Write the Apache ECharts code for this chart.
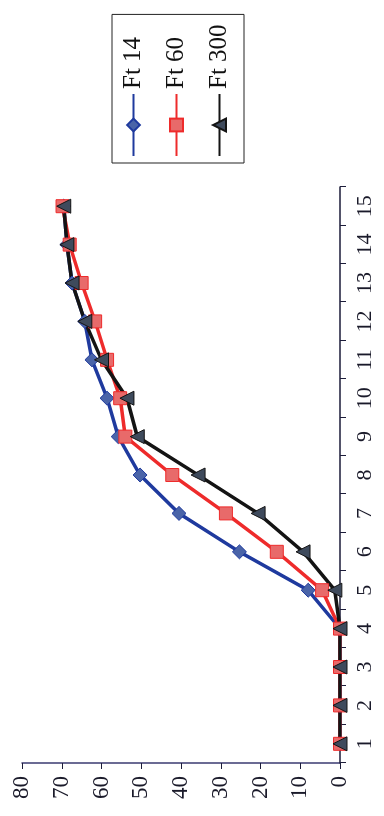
<!DOCTYPE html>
<html>
<head>
<meta charset="utf-8">
<script src="https://cdn.jsdelivr.net/npm/echarts@6/dist/echarts.min.js"></script>
<style>
  html, body { margin: 0; padding: 0; background: #fff; overflow: hidden; }
  body { width: 384px; height: 816px; position: relative; }
  /* The chart is laid out landscape (816 x 384) and turned a quarter turn counter-clockwise. */
  #chart {
    position: absolute; left: 0; top: 0;
    width: 816px; height: 384px;
    transform-origin: 0 0;
    transform: translateY(816px) rotate(-90deg);
  }
</style>
</head>
<body>
<div id="chart"></div>
<script>
// Category axis (1..15) and the three measured series
const categories = ['1','2','3','4','5','6','7','8','9','10','11','12','13','14','15'];
const ft14  = [0, 0, 0, 0, 8.0, 25.3, 40.5, 50.3, 55.8, 58.6, 62.4, 64.2, 67.4, 68.7, 69.5];
const ft60  = [0, 0, 0, 0, 4.5, 15.9, 28.7, 42.2, 54.0, 55.3, 58.6, 61.6, 65.0, 68.0, 69.8];
const ft300 = [0, 0, 0, 0, 1.3, 9.3, 20.6, 35.7, 51.0, 53.6, 60.0, 64.2, 67.4, 68.7, 69.5];
const seriesNames = ['Ft 14', 'Ft 60', 'Ft 300'];

const FONT = 'Liberation Serif';
const AXIS_COLOR = '#1d1d3a';

const chart = echarts.init(document.getElementById('chart'), null, { renderer: 'canvas' });

function lineSeries(name, data, color, symbol, fill, size) {
  return {
    name: name,
    type: 'line',
    data: data,
    symbol: symbol,
    symbolSize: size,
    showAllSymbol: true,
    lineStyle: { color: color, width: 3.5 },
    itemStyle: { color: fill, borderColor: color, borderWidth: 1 },
    emphasis: { disabled: true },
    animation: false
  };
}

chart.setOption({
  backgroundColor: '#fff',
  animation: false,
  grid: { left: 53, right: 187, top: 22, bottom: 44, containLabel: false },
  legend: {
    orient: 'vertical',
    left: 653,
    top: 112,
    padding: [9, 10, 12, 6],
    itemGap: 18,
    itemWidth: 62,
    itemHeight: 16,
    borderColor: '#222',
    borderWidth: 1,
    textStyle: { fontFamily: FONT, fontSize: 25, color: '#111' },
    data: seriesNames
  },
  xAxis: {
    type: 'category',
    data: categories,
    boundaryGap: true,
    axisLine: { show: true, lineStyle: { color: AXIS_COLOR, width: 1.5 } },
    axisTick: { show: true, inside: false, length: 6, alignWithLabel: false, lineStyle: { color: AXIS_COLOR } },
    axisLabel: { fontFamily: FONT, fontSize: 22, color: '#1a1a2a', margin: 14 },
    splitLine: { show: false }
  },
  yAxis: {
    type: 'value',
    min: 0,
    max: 80,
    interval: 10,
    axisLine: { show: true, lineStyle: { color: '#3a3a70', width: 1.5 } },
    axisTick: { show: true, inside: false, length: 6, lineStyle: { color: AXIS_COLOR } },
    axisLabel: { fontFamily: FONT, fontSize: 23, color: '#1a1a2a', margin: 13 },
    splitLine: { show: false }
  },
  series: [
    lineSeries('Ft 14', ft14, '#1f3a9e', 'diamond', '#4a64a8', 14),
    lineSeries('Ft 60', ft60, '#ee2b2b', 'rect', '#e86a6a', 13),
    lineSeries('Ft 300', ft300, '#141414', 'triangle', '#3e4a5c', 14)
  ]
});
</script>
</body>
</html>
